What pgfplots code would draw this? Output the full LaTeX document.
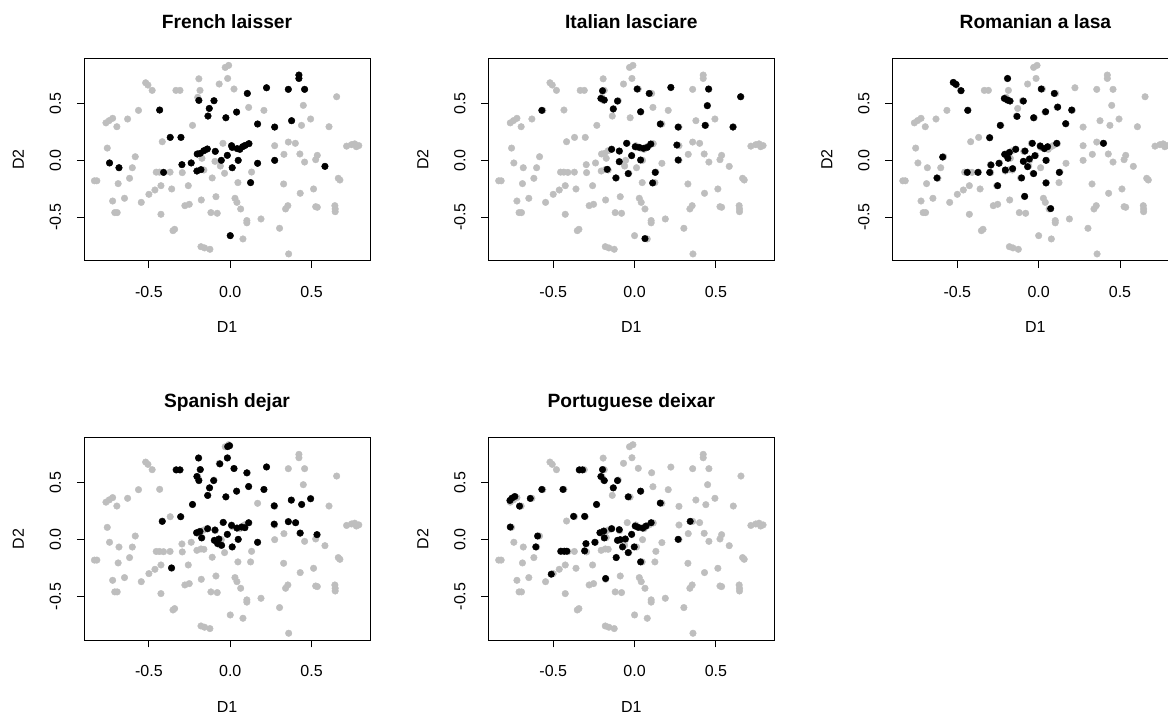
\documentclass[border=0pt]{standalone}
\usepackage{fontspec}
\setmainfont{Liberation Sans}
\usepackage{pgfplots}
\pgfplotsset{compat=1.18}
\usepackage{pgfplotstable}
\definecolor{rgrey}{HTML}{BEBEBE}

\pgfplotstableread{
x y
-0.835 -0.180
-0.820 -0.180
-0.756 0.108
-0.764 0.330
-0.744 0.350
-0.723 0.370
-0.697 0.296
-0.631 0.364
-0.723 -0.358
-0.710 -0.460
-0.695 -0.460
-0.689 -0.205
-0.650 -0.334
-0.619 -0.158
-0.602 -0.065
-0.584 0.032
-0.564 0.440
-0.547 -0.370
-0.520 0.683
-0.506 0.663
-0.480 0.616
-0.500 -0.299
-0.463 -0.261
-0.426 -0.223
-0.418 0.164
-0.455 -0.104
-0.435 -0.104
-0.370 -0.104
-0.426 -0.475
-0.360 -0.252
-0.352 -0.619
-0.342 -0.607
-0.334 0.616
-0.309 0.616
-0.295 -0.108
-0.279 -0.399
-0.252 -0.387
-0.258 -0.223
-0.232 0.308
-0.193 0.718
-0.186 0.616
-0.200 0.555
-0.178 -0.349
-0.180 -0.760
-0.158 -0.771
-0.125 -0.783
-0.174 0.018
-0.162 -0.085
-0.119 -0.460
-0.080 -0.466
-0.111 -0.155
-0.094 -0.009
-0.088 -0.320
-0.068 0.672
-0.061 -0.050
-0.045 0.150
-0.035 -0.114
-0.031 0.818
-0.010 0.836
-0.016 0.721
0.023 0.628
0.029 -0.334
0.041 -0.370
0.064 -0.428
0.047 -0.196
0.078 -0.692
0.102 -0.530
0.102 -0.550
0.113 0.466
0.131 -0.103
0.189 -0.516
0.207 0.440
0.273 0.129
0.303 -0.598
0.328 -0.208
0.330 0.053
0.340 -0.428
0.354 -0.399
0.357 0.161
0.400 0.150
0.359 -0.824
0.430 -0.290
0.428 0.056
0.438 0.308
0.449 0.484
0.457 -0.015
0.494 0.364
0.512 -0.252
0.525 -0.408
0.535 -0.413
0.525 0.006
0.535 0.044
0.607 0.296
0.643 -0.399
0.645 -0.428
0.645 -0.452
0.654 0.560
0.664 -0.158
0.674 -0.173
0.715 0.125
0.745 0.138
0.765 0.145
0.775 0.120
0.790 0.130
-0.742 -0.023
-0.684 -0.065
-0.434 0.443
-0.410 -0.106
-0.369 0.202
-0.303 0.202
-0.297 -0.038
-0.240 -0.023
-0.193 0.528
-0.203 0.056
-0.184 0.062
-0.205 -0.094
-0.180 -0.082
-0.162 0.085
-0.141 0.100
-0.129 0.457
-0.137 0.390
-0.100 0.525
-0.092 0.079
-0.027 0.375
-0.018 0.044
-0.055 0.000
0.008 0.129
0.012 0.114
0.012 -0.065
0.039 0.425
0.043 0.103
0.059 0.097
0.049 0.000
0.076 0.120
0.092 0.132
0.115 0.147
0.105 0.589
0.125 -0.196
0.168 0.320
0.168 -0.026
0.223 0.639
0.273 0.293
0.273 0.000
0.357 0.625
0.377 0.349
0.422 0.751
0.422 0.721
0.457 0.625
0.582 -0.053
0.000 -0.663
}\greyset

\pgfplotstableread{
x y
-0.742 -0.023
-0.684 -0.065
-0.434 0.443
-0.410 -0.106
-0.369 0.202
-0.303 0.202
-0.297 -0.038
-0.240 -0.023
-0.193 0.528
-0.203 0.056
-0.184 0.062
-0.205 -0.094
-0.180 -0.082
-0.162 0.085
-0.141 0.100
-0.129 0.457
-0.137 0.390
-0.100 0.525
-0.092 0.079
-0.027 0.375
-0.018 0.044
-0.055 0.000
0.008 0.129
0.012 0.114
0.012 -0.065
0.039 0.425
0.043 0.103
0.059 0.097
0.049 0.000
0.076 0.120
0.092 0.132
0.115 0.147
0.105 0.589
0.125 -0.196
0.168 0.320
0.168 -0.026
0.223 0.639
0.273 0.293
0.273 0.000
0.357 0.625
0.377 0.349
0.422 0.751
0.422 0.721
0.457 0.625
0.582 -0.053
0.000 -0.663
}\blackA

\pgfplotstableread{
x y
-0.570 0.440
-0.197 0.613
-0.207 0.545
-0.186 0.531
-0.105 0.522
-0.131 0.452
0.016 0.628
0.090 0.589
0.223 0.642
0.455 0.628
0.652 0.560
0.447 0.481
0.037 0.428
0.158 0.320
0.268 0.293
0.434 0.308
0.605 0.293
-0.049 0.150
-0.141 0.097
-0.094 0.082
0.004 0.120
0.029 0.114
0.055 0.106
0.078 0.114
0.100 0.144
-0.018 0.041
-0.094 -0.012
0.037 0.003
0.260 0.135
0.268 0.003
-0.168 -0.079
-0.115 -0.155
-0.039 -0.117
0.127 -0.106
0.111 -0.199
0.064 -0.689
}\blackB

\pgfplotstableread{
x y
-0.525 0.686
-0.508 0.669
-0.477 0.613
-0.191 0.721
0.016 0.628
0.096 0.589
-0.211 0.545
-0.191 0.531
-0.176 0.522
-0.094 0.522
-0.436 0.440
-0.133 0.387
-0.031 0.375
0.043 0.428
0.117 0.469
0.203 0.443
0.166 0.323
-0.236 0.308
-0.301 0.199
0.398 0.150
-0.590 0.029
-0.625 -0.155
-0.439 -0.106
-0.373 -0.106
-0.301 -0.106
-0.293 -0.041
-0.244 -0.026
-0.209 0.053
-0.180 0.070
-0.141 0.097
-0.189 0.018
-0.205 -0.085
-0.160 -0.073
-0.252 -0.223
-0.084 0.082
-0.039 0.150
0.010 0.126
0.035 0.103
0.055 0.120
0.111 0.150
-0.023 0.041
-0.094 -0.009
-0.057 0.012
-0.068 -0.056
0.045 0.000
-0.105 -0.155
-0.031 -0.117
0.127 -0.106
0.045 -0.199
-0.086 -0.317
0.074 -0.425
}\blackC

\pgfplotstableread{
x y
-0.016 0.819
-0.004 0.827
-0.195 0.719
-0.018 0.719
-0.064 0.667
-0.332 0.614
-0.309 0.614
-0.184 0.617
0.023 0.626
0.223 0.640
0.102 0.588
-0.205 0.556
-0.193 0.520
-0.102 0.520
-0.127 0.456
-0.139 0.389
-0.027 0.377
0.039 0.427
0.113 0.468
0.207 0.442
-0.232 0.310
-0.418 0.161
-0.305 0.202
0.270 0.298
0.375 0.348
0.439 0.310
0.494 0.360
0.270 0.137
0.357 0.158
0.402 0.149
0.430 0.058
0.533 0.044
-0.043 0.152
-0.207 0.061
-0.186 0.073
-0.176 0.015
-0.139 0.096
-0.094 0.085
-0.098 -0.006
-0.070 0.006
-0.053 -0.050
-0.078 -0.035
-0.018 0.047
0.008 0.126
0.041 0.102
0.070 0.111
0.090 0.105
0.113 0.149
0.049 0.003
0.012 -0.064
0.168 -0.023
-0.361 -0.249
}\blackD

\pgfplotstableread{
x y
-0.766 0.345
-0.754 0.365
-0.736 0.380
-0.707 0.295
-0.641 0.363
-0.570 0.442
-0.440 0.442
-0.340 0.614
-0.320 0.614
-0.197 0.617
-0.207 0.556
-0.186 0.520
-0.105 0.520
-0.131 0.456
-0.039 0.377
0.037 0.427
0.158 0.322
-0.234 0.310
-0.375 0.205
-0.307 0.205
-0.764 0.111
-0.596 0.032
-0.607 -0.064
-0.453 -0.102
-0.432 -0.102
-0.416 -0.102
-0.307 -0.099
-0.299 -0.035
-0.244 -0.023
-0.213 0.061
-0.189 0.076
-0.141 0.096
-0.094 0.088
-0.186 0.015
-0.105 -0.006
-0.088 0.000
-0.057 0.006
-0.074 -0.064
-0.018 0.047
0.004 0.120
0.023 0.108
0.051 0.102
0.070 0.120
0.102 0.149
-0.002 -0.064
-0.039 -0.114
-0.113 -0.158
0.037 -0.196
-0.178 -0.342
-0.512 -0.304
0.268 0.003
0.342 0.161
}\blackE

\pgfplotsset{
  panel/.style={
    scale only axis, width=143pt, height=101.5pt,
    anchor=south west,
    xmin=-0.899, xmax=0.859, ymin=-0.886, ymax=0.901,
    axis line style={black, line width=0.5pt},
    xtick={-0.5,0,0.5}, ytick={-0.5,0,0.5},
    xticklabels={\mbox{-0.5},\mbox{0.0},\mbox{0.5}},
    yticklabels={\mbox{-0.5},\mbox{0.0},\mbox{0.5}},
    tick align=outside, xtick pos=bottom, ytick pos=left,
    major tick length=3.6pt,
    tick style={black, line width=0.5pt},
    tick label style={font=\fontsize{8}{9.6}\selectfont},
    xticklabel style={anchor=base},
    xticklabel shift=14.75pt,
    yticklabel style={rotate=90, anchor=base},
    yticklabel shift=7.9pt,
    xlabel={D1}, ylabel={D2},
    label style={font=\fontsize{8}{9.6}\selectfont},
    xlabel style={at={([yshift=-33.25pt]axis description cs:0.5,0)}, anchor=center},
    ylabel style={at={([xshift=-32.8pt]axis description cs:0,0.5)}, anchor=center},
    title style={at={([yshift=8.75pt]axis description cs:0.5,1)}, anchor=base,
      font=\fontsize{9.6}{11.5}\selectfont\bfseries},
  },
  greydots/.style={only marks, mark=*, mark size=1.65pt, color=rgrey,
    mark options={line width=0.2pt}},
  blackdots/.style={only marks, mark=*, mark size=1.65pt, color=black,
    mark options={line width=0.2pt}},
}

\begin{document}
\begin{tikzpicture}
\useasboundingbox (0,0) rectangle (584pt,357.5pt);
\clip (0,0) rectangle (584pt,357.5pt);
\begin{axis}[panel, at={(42pt,227pt)}, title={French laisser}]
\addplot[greydots] table[x=x,y=y] {\greyset};
\addplot[blackdots] table[x=x,y=y] {\blackA};
\end{axis}
\begin{axis}[panel, at={(244.15pt,227pt)}, title={Italian lasciare}]
\addplot[greydots] table[x=x,y=y] {\greyset};
\addplot[blackdots] table[x=x,y=y] {\blackB};
\end{axis}
\begin{axis}[panel, at={(446.2pt,227pt)}, title={Romanian a lasa}]
\addplot[greydots] table[x=x,y=y] {\greyset};
\addplot[blackdots] table[x=x,y=y] {\blackC};
\end{axis}
\begin{axis}[panel, at={(42pt,37.35pt)}, title={Spanish dejar}]
\addplot[greydots] table[x=x,y=y] {\greyset};
\addplot[blackdots] table[x=x,y=y] {\blackD};
\end{axis}
\begin{axis}[panel, at={(244.15pt,37.35pt)}, title={Portuguese deixar}]
\addplot[greydots] table[x=x,y=y] {\greyset};
\addplot[blackdots] table[x=x,y=y] {\blackE};
\end{axis}
\end{tikzpicture}
\end{document}
